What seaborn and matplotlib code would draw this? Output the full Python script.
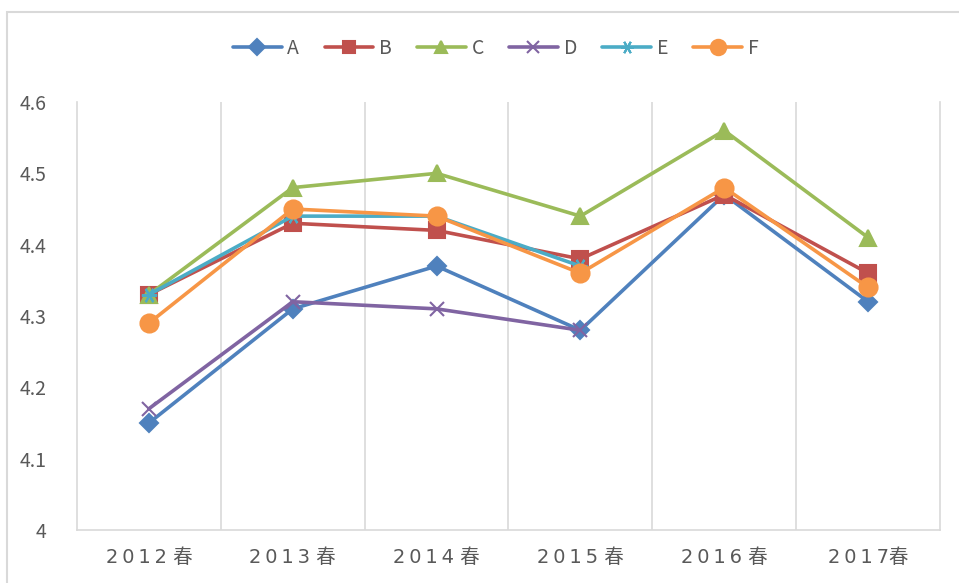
import matplotlib
matplotlib.use('Agg')
import matplotlib.pyplot as plt
import seaborn as sns
import pandas as pd
import numpy as np

# data
seasons = ['2012 春', '2013 春', '2014 春', '2015 春', '2016 春', '2017春']
A = [4.15, 4.31, 4.37, 4.28, 4.47, 4.32]
B = [4.33, 4.43, 4.42, 4.38, 4.47, 4.36]
C = [4.33, 4.48, 4.50, 4.44, 4.56, 4.41]
D = [4.17, 4.32, 4.31, 4.28, np.nan, np.nan]
E = [4.33, 4.44, 4.44, 4.37, np.nan, np.nan]
F = [4.29, 4.45, 4.44, 4.36, 4.48, 4.34]
names = ['A', 'B', 'C', 'D', 'E', 'F']

colors = ['#4F81BD', '#C0504D', '#9BBB59', '#8064A2', '#4BACC6', '#F79646']
markers = ['D', 's', '^', 'x', (6, 2, 90), 'o']
msizes = [9, 11, 11, 10, 11, 13]

rows = []
for n, vals in zip(names, [A, B, C, D, E, F]):
    for i, v in enumerate(vals):
        if not np.isnan(v):
            rows.append({'series': n, 'pos': i, 'value': v})
df = pd.DataFrame(rows)

sns.set_style('white')
plt.rcParams['font.family'] = ['Noto Sans CJK SC', 'DejaVu Sans']

fig = plt.figure(figsize=(9.59, 5.83), dpi=100)
ax = fig.add_axes([77/959, 53/583, 863/959, 428/583])

# chart border
fig.patches.append(plt.Rectangle((7/959, -0.1), 1.2, (583-12)/583 + 0.1,
                                 transform=fig.transFigure, fill=False,
                                 edgecolor='#d9d9d9', linewidth=1.5))

# one call per series (filled and line markers can't be mixed in one call)
for n, c, m, ms in zip(names, colors, markers, msizes):
    sns.lineplot(data=df[df['series'] == n], x='pos', y='value',
                 color=c, marker=m, markersize=ms, markeredgecolor=c,
                 markeredgewidth=1.5, linewidth=2.6, ax=ax, zorder=3)

ax.set_xlim(-0.5, 5.5)
ax.set_ylim(4.0, 4.6)
ax.set_yticks([4.0, 4.1, 4.2, 4.3, 4.4, 4.5, 4.6])
ax.set_yticklabels(['4', '4.1', '4.2', '4.3', '4.4', '4.5', '4.6'])
ax.set_xticks(range(6))
# spaced-out tick text, like the original
ax.set_xticklabels(['\u2009'.join(s.replace(' ', '')[:4]) + (' ' if ' ' in s else '') + s[-1]
                    for s in seasons],
                   family=['DejaVu Sans', 'Noto Sans CJK SC'])
ax.tick_params(axis='y', labelsize=14, labelcolor='#595959', length=0, pad=22)
ax.tick_params(axis='x', labelsize=14, labelcolor='#595959', length=0, pad=13)
ax.set_xlabel('')
ax.set_ylabel('')

for xv in np.arange(0.5, 5.0, 1.0):
    ax.axvline(xv, color='#d9d9d9', linewidth=1.2, zorder=1)
ax.spines['top'].set_visible(False)
for s in ['left', 'right', 'bottom']:
    ax.spines[s].set_color('#d9d9d9')
    ax.spines[s].set_linewidth(1.2)

# legend
handles = [plt.Line2D([], [], color=c, marker=m, markersize=ms*0.85,
                      markeredgecolor=c, markeredgewidth=1.5, linewidth=2.6)
           for c, m, ms in zip(colors, markers, msizes)]
fig.legend(handles, names, loc='center', bbox_to_anchor=(0.517, (583-48)/583),
           ncol=6, frameon=False, fontsize=14, labelcolor='#595959',
           handlelength=2.5, columnspacing=1.3, handletextpad=0.3)

fig.savefig('out.png', dpi=100)
